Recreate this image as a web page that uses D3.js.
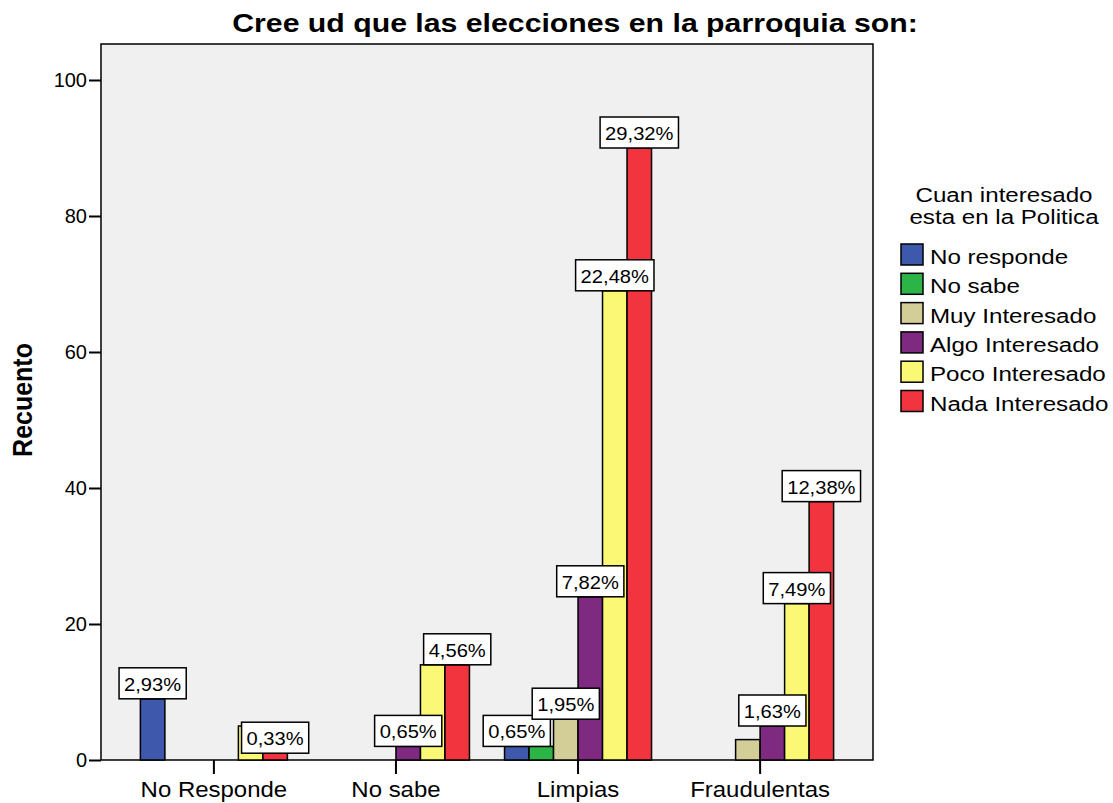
<!DOCTYPE html>
<html>
<head>
<meta charset="utf-8">
<script src="https://cdn.jsdelivr.net/npm/d3@7"></script>
<style>
  body { margin: 0; background: #fff; }
  text { font-family: "Liberation Sans", Arial, sans-serif; fill: #000; }
</style>
</head>
<body>
<svg width="1113" height="803"></svg>
<script>
// data (counts)
var categories = ["No Responde", "No sabe", "Limpias", "Fraudulentas"];
var seriesNames = ["No responde", "No sabe", "Muy Interesado", "Algo Interesado", "Poco Interesado", "Nada Interesado"];
var seriesColors = ["#3E58AC", "#2DB446", "#D3CE97", "#7D2A80", "#FAF875", "#F1343D"];
var noResponde = [9, 0, 2, 0];
var noSabe = [0, 0, 2, 0];
var muyInteresado = [0, 0, 6, 3];
var algoInteresado = [0, 2, 24, 5];
var pocoInteresado = [5, 14, 69, 23];
var nadaInteresado = [1, 14, 90, 38];
// percent labels as printed (null = not shown in chart)
var noRespondeLbl = ["2,93%", null, "0,65%", null];
var noSabeLbl = [null, null, null, null];
var muyLbl = [null, null, "1,95%", null];
var algoLbl = [null, "0,65%", "7,82%", "1,63%"];
var pocoLbl = [null, null, "22,48%", "7,49%"];
var nadaLbl = ["0,33%", "4,56%", "29,32%", "12,38%"];
var yTicks = [0, 20, 40, 60, 80, 100];

var values = [noResponde, noSabe, muyInteresado, algoInteresado, pocoInteresado, nadaInteresado];
var labels = [noRespondeLbl, noSabeLbl, muyLbl, algoLbl, pocoLbl, nadaLbl];

var svg = d3.select("svg");
var plot = {left: 101, right: 873, top: 44, bottom: 760};

// the source picture is a bit wider than normal type, so text gets a horizontal stretch
function stretched(sel, x, y, s) {
    return sel.attr("transform", "translate(" + x + "," + y + ") scale(" + s + ",1)");
}

// title
stretched(svg.append("text"), 575, 32, 1.21)
    .attr("text-anchor", "middle")
    .attr("font-size", "25px")
    .attr("font-weight", "bold")
    .text("Cree ud que las elecciones en la parroquia son:");

// plot background + frame
svg.append("rect")
    .attr("x", plot.left).attr("y", plot.top)
    .attr("width", plot.right - plot.left).attr("height", plot.bottom - plot.top)
    .attr("fill", "#F0F0F0")
    .attr("stroke", "#000").attr("stroke-width", 1.5);

var x0 = d3.scaleBand()
    .domain(categories)
    .range([plot.left, plot.right])
    .paddingInner(0)
    .paddingOuter(0.12);

var groupW = 147;
var x1 = d3.scaleBand()
    .domain(d3.range(seriesNames.length))
    .range([(x0.bandwidth() - groupW) / 2, (x0.bandwidth() + groupW) / 2]);

var y = d3.scaleLinear().domain([0, 100]).range([plot.bottom, 80]);

// y axis
var yAxis = svg.append("g")
    .attr("transform", "translate(" + plot.left + ",0)")
    .call(d3.axisLeft(y).tickValues(yTicks).tickSize(12).tickPadding(2));
yAxis.select(".domain").remove();
yAxis.selectAll("line").attr("stroke", "#000").attr("stroke-width", 2);
yAxis.selectAll("text").attr("font-size", "20px").attr("font-family", "Liberation Sans, Arial, sans-serif");

// x axis
var xAxis = svg.append("g")
    .attr("transform", "translate(0," + plot.bottom + ")")
    .call(d3.axisBottom(x0).tickSize(14).tickPadding(7));
xAxis.select(".domain").remove();
xAxis.selectAll("line").attr("stroke", "#000").attr("stroke-width", 2);
xAxis.selectAll("text")
    .attr("font-size", "22px")
    .attr("font-family", "Liberation Sans, Arial, sans-serif")
    .attr("transform", "scale(1.09,1)");

// bars
var groups = svg.selectAll(".grp")
    .data(categories)
    .enter().append("g")
    .attr("class", "grp")
    .attr("transform", function (d) { return "translate(" + x0(d) + ",0)"; });

groups.selectAll("rect")
    .data(function (c, ci) {
        return values.map(function (v, si) { return {s: si, v: v[ci], lbl: labels[si][ci]}; });
    })
    .enter().filter(function (d) { return d.v > 0; })
    .append("rect")
    .attr("x", function (d) { return x1(d.s); })
    .attr("y", function (d) { return y(d.v); })
    .attr("width", x1.bandwidth())
    .attr("height", function (d) { return y(0) - y(d.v); })
    .attr("fill", function (d) { return seriesColors[d.s]; })
    .attr("stroke", "#000")
    .attr("stroke-width", 1.5);

// value labels (boxes)
var lblStretch = 1.12;
var lbls = groups.selectAll(".lbl")
    .data(function (c, ci) {
        return values.map(function (v, si) { return {s: si, v: v[ci], lbl: labels[si][ci]}; })
            .filter(function (d) { return d.lbl; });
    })
    .enter().append("g")
    .attr("class", "lbl")
    .attr("transform", function (d) {
        return "translate(" + (x1(d.s) + x1.bandwidth() / 2) + "," + y(d.v) + ")";
    });

lbls.append("rect")
    .attr("y", -31)
    .attr("height", 31)
    .attr("fill", "#fff")
    .attr("stroke", "#000")
    .attr("stroke-width", 1.5);

lbls.append("text")
    .attr("text-anchor", "middle")
    .attr("font-size", "18px")
    .attr("transform", "translate(0,-8) scale(" + lblStretch + ",1)")
    .text(function (d) { return d.lbl; });

lbls.each(function () {
    var g = d3.select(this);
    var w = g.select("text").node().getComputedTextLength() * lblStretch + 10;
    g.select("rect").attr("x", -w / 2).attr("width", w);
});

// y title
svg.append("text")
    .attr("transform", "translate(32,400) rotate(-90) scale(1,1.1)")
    .attr("text-anchor", "middle")
    .attr("font-size", "25px")
    .attr("font-weight", "bold")
    .text("Recuento");

// legend
var legStretch = 1.15;
var legend = svg.append("g").attr("transform", "translate(901,0)");
stretched(legend.append("text"), 103, 202, legStretch)
    .attr("text-anchor", "middle")
    .attr("font-size", "21px")
    .text("Cuan interesado");
stretched(legend.append("text"), 103, 224, legStretch)
    .attr("text-anchor", "middle")
    .attr("font-size", "21px")
    .text("esta en la Politica");

var item = legend.selectAll(".item")
    .data(seriesNames)
    .enter().append("g")
    .attr("class", "item")
    .attr("transform", function (d, i) { return "translate(0," + (244 + i * 29.3) + ")"; });
item.append("rect")
    .attr("width", 22).attr("height", 21)
    .attr("fill", function (d, i) { return seriesColors[i]; })
    .attr("stroke", "#000").attr("stroke-width", 1.5);
item.append("text")
    .attr("font-size", "21px")
    .attr("transform", "translate(29,20) scale(" + legStretch + ",1)")
    .text(function (d) { return d; });
</script>
</body>
</html>
